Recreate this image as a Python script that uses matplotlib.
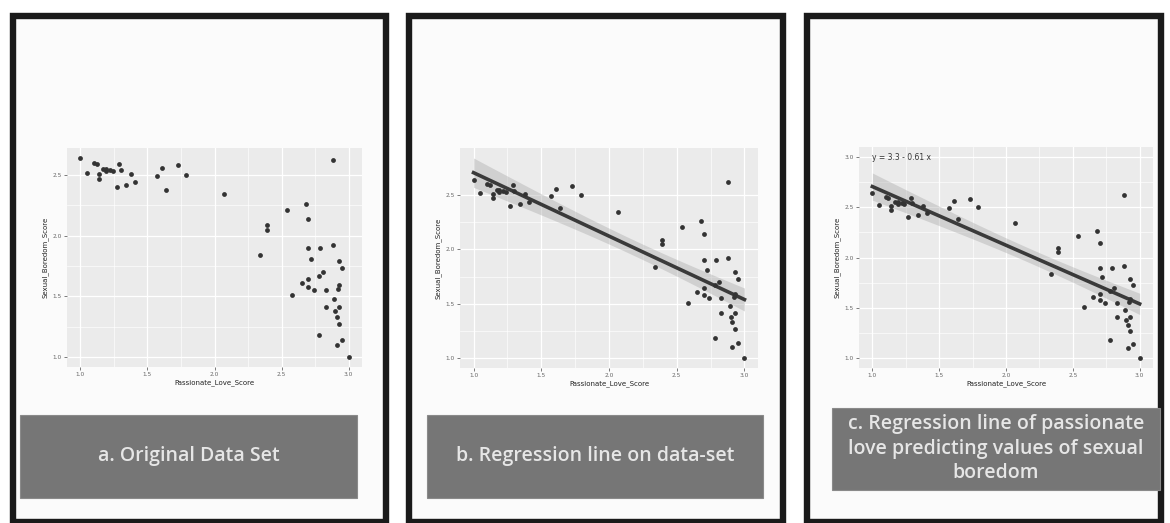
import numpy as np
import matplotlib
matplotlib.use('Agg')
import matplotlib.pyplot as plt
from matplotlib.patches import Rectangle

W, H = 1170, 523

# data (Passionate_Love_Score, Sexual_Boredom_Score)
love = [1.00, 1.05, 1.10, 1.12, 1.14, 1.14, 1.17, 1.19, 1.19, 1.22, 1.24, 1.27,
        1.29, 1.30, 1.34, 1.38, 1.41, 1.57, 1.61, 1.64, 1.73, 1.79, 2.07, 2.34,
        2.39, 2.39, 2.54, 2.58, 2.65, 2.68, 2.70, 2.70, 2.70, 2.70, 2.72, 2.74,
        2.78, 2.78, 2.79, 2.81, 2.83, 2.83, 2.88, 2.88, 2.89, 2.90, 2.91, 2.91,
        2.92, 2.93, 2.93, 2.93, 2.93, 2.95, 2.95, 3.00]
boredom = [2.64, 2.52, 2.60, 2.59, 2.51, 2.47, 2.55, 2.55, 2.53, 2.54, 2.53, 2.40,
           2.59, 2.54, 2.42, 2.51, 2.44, 2.49, 2.56, 2.38, 2.58, 2.50, 2.34, 1.84,
           2.09, 2.05, 2.21, 1.51, 1.61, 2.26, 2.14, 1.90, 1.64, 1.58, 1.81, 1.55,
           1.67, 1.18, 1.90, 1.70, 1.55, 1.41, 2.62, 1.92, 1.48, 1.38, 1.33, 1.10,
           1.56, 1.79, 1.59, 1.41, 1.27, 1.73, 1.14, 1.00]

x_ticks = [1.0, 1.5, 2.0, 2.5, 3.0]
y_ticks_ab = [1.0, 1.5, 2.0, 2.5]
y_ticks_c = [1.0, 1.5, 2.0, 2.5, 3.0]
equation = "y = 3.3 - 0.61 x"
captions = ["a. Original Data Set",
            "b. Regression line on data-set",
            "c. Regression line of passionate\nlove predicting values of sexual\nboredom"]
t_crit = 2.006  # t(0.975, n-2)


def px_rect(x0, y0, x1, y1):
    # pixel box -> figure fraction [left, bottom, width, height]
    return [x0 / W, 1 - y1 / H, (x1 - x0) / W, (y1 - y0) / H]


fig = plt.figure(figsize=(W / 100, H / 100), dpi=100)
fig.patch.set_facecolor('white')

# black frames
frames = [(13, 16, 386, 522), (409, 16, 783, 522), (807, 16, 1161, 522)]
for x0, y0, x1, y1 in frames:
    fig.add_artist(Rectangle((x0 / W, 1 - y1 / H), (x1 - x0) / W, (y1 - y0) / H,
                             transform=fig.transFigure, fill=True,
                             facecolor='#fbfbfb', edgecolor='#1a1a1a', lw=4.6,
                             zorder=0))

# caption boxes
cap_boxes = [(20, 415, 357, 498), (427, 415, 763, 498), (832, 408, 1160, 490)]
for (x0, y0, x1, y1), txt in zip(cap_boxes, captions):
    fig.add_artist(Rectangle((x0 / W, 1 - y1 / H), (x1 - x0) / W, (y1 - y0) / H,
                             transform=fig.transFigure, facecolor='#767676',
                             edgecolor='#8a8a8a', lw=0.8, zorder=1))
    fig.text((x0 + x1) / 2 / W, 1 - (y0 + y1) / 2 / H, txt, ha='center',
             va='center', color='#e6e6e6', fontsize=14, family='Open Sans',
             weight='semibold', linespacing=1.3, zorder=2)

# regression fit
xs = np.array(love)
ys = np.array(boredom)
slope, intercept = np.polyfit(xs, ys, 1)
xg = np.linspace(xs.min(), xs.max(), 100)
yg = intercept + slope * xg
n = len(xs)
resid = ys - (intercept + slope * xs)
s = np.sqrt(np.sum(resid ** 2) / (n - 2))
se = s * np.sqrt(1 / n + (xg - xs.mean()) ** 2 / np.sum((xs - xs.mean()) ** 2))

axes_boxes = [(67, 148, 362, 367), (460, 148, 758, 368), (859, 147, 1153, 368)]
for i, box in enumerate(axes_boxes):
    ax = fig.add_axes(px_rect(*box))
    ax.set_facecolor('#ebebeb')
    for sp in ax.spines.values():
        sp.set_visible(False)
    if i > 0:
        ax.fill_between(xg, yg - t_crit * se, yg + t_crit * se, color='#a8a8a8',
                        alpha=0.4, lw=0, zorder=2)
        ax.plot(xg, yg, color='#3a3a3a', lw=2.6, zorder=3)
    ax.scatter(love, boredom, s=12, color='#333333', lw=0, zorder=4)
    ax.margins(x=0.05, y=0.05)
    ax.set_xticks(x_ticks)
    ax.set_xticks([1.25, 1.75, 2.25, 2.75], minor=True)
    if i == 2:
        ax.set_ylim(0.9, 3.1)
        ax.set_yticks(y_ticks_c)
        ax.set_yticks([1.25, 1.75, 2.25, 2.75], minor=True)
        ax.text(1.0, 3.0, equation, fontsize=5.5, color='#333333', va='center',
                ha='left', zorder=5)
    else:
        ax.set_yticks(y_ticks_ab)
        ax.set_yticks([1.25, 1.75, 2.25], minor=True)
    ax.grid(True, which='major', color='white', lw=0.9)
    ax.grid(True, which='minor', color='white', lw=0.45)
    ax.set_axisbelow(True)
    ax.tick_params(which='major', length=2, width=0.6, color='#666666',
                   labelsize=4.2, labelcolor='#666666', pad=1.5)
    ax.tick_params(which='minor', length=0)
    ax.xaxis.set_major_formatter(matplotlib.ticker.FormatStrFormatter('%.1f'))
    ax.yaxis.set_major_formatter(matplotlib.ticker.FormatStrFormatter('%.1f'))
    ax.set_xlabel('Passionate_Love_Score', fontsize=5, color='#222222', labelpad=2)
    ax.set_ylabel('Sexual_Boredom_Score', fontsize=5, color='#222222', labelpad=3)

fig.savefig('out.png', dpi=100)
